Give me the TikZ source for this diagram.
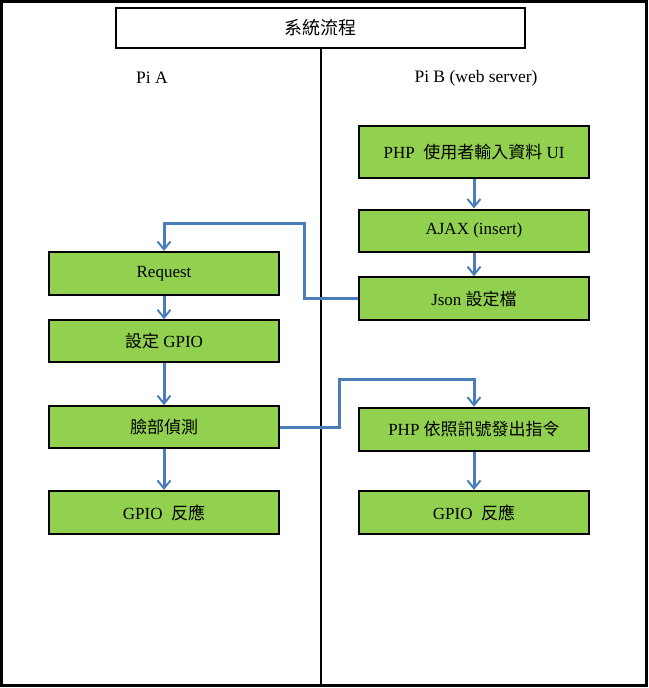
\documentclass[tikz,border=0pt]{standalone}
\usepackage{fontspec}
\setmainfont{Liberation Serif}
\newfontfamily\cjk{Noto Sans CJK TC}
\usetikzlibrary{arrows.meta}
\definecolor{boxgreen}{HTML}{92D050}
\definecolor{flowblue}{HTML}{4A7EBB}
\tikzset{
  stepbox/.style={draw=black, line width=2pt, fill=boxgreen, minimum width=230pt, minimum height=43pt, inner sep=0pt, font=\fontsize{17}{19}\selectfont},
  conn/.style={draw=flowblue, line width=3pt, -{Straight Barb[length=8pt,width=13pt,line width=2pt]}},
  lbl/.style={font=\fontsize{17.5}{19}\selectfont, inner sep=0pt}
}
\begin{document}
\begin{tikzpicture}[x=1pt,y=-1pt]
\useasboundingbox (0,0) rectangle (648,688);
\draw[line width=3pt] (1.5,1.5) rectangle (646.5,685.5);
\node[draw, line width=2pt, fill=white, minimum width=409pt, minimum height=40pt, inner sep=0pt, font=\fontsize{18}{20}\selectfont] (title) at (320.5,27.5) {\cjk 系統流程};
\coordinate (divbot) at (320.5,685);
\draw[line width=2pt] (title.south) -- (divbot);
\node[lbl] (pia) at (152,78) {Pi A};
\node[lbl] (pib) at (476,78) {Pi B (web server)};
% right column
\node[stepbox, minimum height=52pt] (php1) at (474,151.7) {PHP\ \ {\cjk 使用者輸入資料} UI};
\node[stepbox, minimum height=42pt] (ajax) at (474,230.5) {AJAX (insert)};
\node[stepbox] (json) at (474,298.7) {Json {\cjk 設定檔}};
\node[stepbox] (php2) at (474,429.2) {PHP {\cjk 依照訊號發出指令}};
\node[stepbox] (gpiob) at (474,512.5) {GPIO\ \ {\cjk 反應}};
% left column
\node[stepbox] (req) at (164,273.5) {Request};
\node[stepbox, minimum height=42pt] (gset) at (164,341.3) {{\cjk 設定} GPIO};
\node[stepbox, minimum height=42pt] (face) at (164,427.2) {{\cjk 臉部偵測}};
\node[stepbox] (gpioa) at (164,512.5) {GPIO\ \ {\cjk 反應}};
% connectors
\draw[conn] (php1) -- (ajax);
\draw[conn] (ajax) -- (json);
\draw[conn] (req) -- (gset);
\draw[conn] (gset) -- (face);
\draw[conn] (face) -- (gpioa);
\draw[conn] (php2) -- (gpiob);
\draw[conn] (json.west) -| (304,223.3) -| (req.north);
\draw[conn] (face.east) -| (339,379) -| (php2.north);
\end{tikzpicture}
\end{document}
